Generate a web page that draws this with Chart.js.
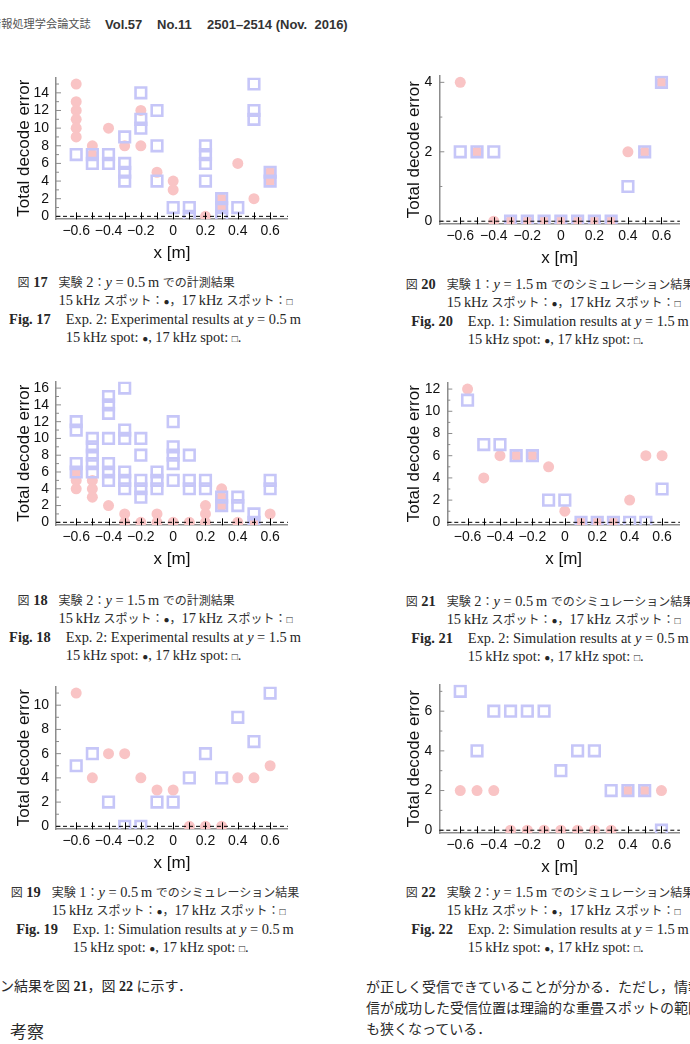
<!DOCTYPE html>
<html><head><meta charset="utf-8">
<script src="https://cdn.jsdelivr.net/npm/chart.js@4/dist/chart.umd.min.js"></script>
<style>
html,body{margin:0;padding:0;background:#fff;width:690px;height:1044px;overflow:hidden;position:relative}
canvas{position:absolute}
.t{position:absolute;white-space:nowrap;line-height:1;transform:translateY(-50%)}
.hdj{font-family:"Noto Sans CJK JP",sans-serif;font-size:11.2px;color:#555}
.hdl{font-family:"Liberation Sans",Arial,sans-serif;font-size:13px;font-weight:bold;color:#333}
.capblk{position:absolute;display:grid;grid-template-columns:auto auto;line-height:18.7px;white-space:nowrap;transform:translateX(-50%);font-family:"Liberation Serif","DejaVu Serif",serif;font-size:14.4px;color:#262626}
.capblk.jp{column-gap:11px}
.capblk.en{column-gap:15px}
.j{font-family:"Noto Sans CJK JP",sans-serif;font-size:12px;color:#333}
.s{font-size:10px}
.body{font-family:"Liberation Serif",serif;font-size:14px;color:#222}
.bj{font-family:"Noto Sans CJK JP",sans-serif;font-size:14px;color:#2a2a2a}
</style>
</head><body>
<div class="t hdj" style="left:-10px;top:24px">情報処理学会論文誌</div>
<div class="t hdl" style="left:105px;top:24px">Vol.57</div>
<div class="t hdl" style="left:157px;top:24px">No.11</div>
<div class="t hdl" style="left:207px;top:24px">2501–2514 (Nov.&nbsp; 2016)</div>

<canvas id="c17"></canvas><canvas id="c18"></canvas><canvas id="c19"></canvas>
<canvas id="c20"></canvas><canvas id="c21"></canvas><canvas id="c22"></canvas>

<div id="caps"></div>

<div class="t body" style="left:0px;top:986px"><span class="bj">ン結果を図</span> <b>21</b><span class="bj">，図</span> <b>22</b> <span class="bj">に示す．</span></div>
<div class="t bj" style="left:10px;top:1030px;font-size:17px">考察</div>
<div class="t bj" style="left:366px;top:986px">が正しく受信できていることが分かる．ただし，情報</div>
<div class="t bj" style="left:366px;top:1007px">信が成功した受信位置は理論的な重畳スポットの範囲</div>
<div class="t bj" style="left:366px;top:1028px">も狭くなっている．</div>

<script>
// ---------------- DATA ----------------
const X_POS = [-0.6,-0.5,-0.4,-0.3,-0.2,-0.1,0,0.1,0.2,0.3,0.4,0.5,0.6];
const X_TICKS = [-0.6,-0.4,-0.2,0,0.2,0.4,0.6];
const X_TICK_LABELS = ['−0.6','−0.4','−0.2','0','0.2','0.4','0.6'];
const X_TITLE = 'x [m]';
const Y_TITLE = 'Total decode error';

// Fig.17  Exp.2 measured, y = 0.5 m
const FIG17_15KHZ = [[15,13,12,11,10,9],[8,7],[10],[8],[12,8],[5],[4,3],[],[0],[2,1],[6],[2],[5,4]];
const FIG17_17KHZ = [[7],[7,6],[7,6],[9,6,5,4],[14,11,10],[12,8,4],[1],[1,0],[8,7,6,4],[2,1,0],[1],[15,12,11],[5,4]];
const FIG17_Y_TICKS = [0,2,4,6,8,10,12,14];

// Fig.18  Exp.2 measured, y = 1.5 m
const FIG18_15KHZ = [[6,5,4],[5,4,3],[2],[1,0],[0],[1,0],[0],[0],[2,1,0],[4,3,2],[0],[0],[1]];
const FIG18_17KHZ = [[12,11,7,6],[10,9,8,7,6],[15,14,13,10,7,6,5],[16,11,10,6,5,4],[10,8,5,4,3],[6,5,4],[12,9,8,7,5],[8,5,4],[5,4],[3,2],[3,2],[1,0],[5,4]];
const FIG18_Y_TICKS = [0,2,4,6,8,10,12,14,16];

// Fig.19  Exp.1 simulation, y = 0.5 m
const FIG19_15KHZ = [[11],[4],[6],[6],[4],[3],[3],[0],[0],[0],[4],[4],[5]];
const FIG19_17KHZ = [[5],[6],[2],[0],[0],[2],[2],[4],[6],[4],[9],[7],[11]];
const FIG19_Y_TICKS = [0,2,4,6,8,10];

// Fig.20  Exp.1 simulation, y = 1.5 m
const FIG20_15KHZ = [[4],[2],[0],[0],[0],[0],[0],[0],[0],[0],[2],[2],[4]];
const FIG20_17KHZ = [[2],[2],[2],[0],[0],[0],[0],[0],[0],[0],[1],[2],[4]];
const FIG20_Y_TICKS = [0,2,4];

// Fig.21  Exp.2 simulation, y = 0.5 m
const FIG21_15KHZ = [[12],[4],[6],[6],[6],[5],[1],[0],[0],[0],[2],[6],[6]];
const FIG21_17KHZ = [[11],[7],[7],[6],[6],[2],[2],[0],[0],[0],[0],[0],[3]];
const FIG21_Y_TICKS = [0,2,4,6,8,10,12];

// Fig.22  Exp.2 simulation, y = 1.5 m
const FIG22_15KHZ = [[2],[2],[2],[0],[0],[0],[0],[0],[0],[0],[2],[2],[2]];
const FIG22_17KHZ = [[7],[4],[6],[6],[6],[6],[3],[4],[4],[2],[2],[2],[0]];
const FIG22_Y_TICKS = [0,2,4,6];

// caption texts
const CAPTIONS = [
  {n:17, exp:'2', y:'0.5', jp:'での計測結果', en:'Experimental'},
  {n:18, exp:'2', y:'1.5', jp:'での計測結果', en:'Experimental'},
  {n:19, exp:'1', y:'0.5', jp:'でのシミュレーション結果', en:'Simulation'},
  {n:20, exp:'1', y:'1.5', jp:'でのシミュレーション結果', en:'Simulation'},
  {n:21, exp:'2', y:'0.5', jp:'でのシミュレーション結果', en:'Simulation'},
  {n:22, exp:'2', y:'1.5', jp:'でのシミュレーション結果', en:'Simulation'}
];

// ---------------- LAYOUT / STYLE ----------------
const FONT = 'Liberation Sans';
const AX = '#8c8c8c';
const CI = 'rgb(249,196,197)';
const SQ = 'rgb(198,198,248)';
const X_MIN = -0.725, X_MAX = 0.71;
const BOX = {
  c17:{col:0,   L:56,  R:293, T:72,  B:219.3},
  c18:{col:0,   L:56,  R:293, T:376.3, B:525.1},
  c19:{col:0,   L:56,  R:293, T:681.2, B:829.5},
  c20:{col:390, L:439.3, R:685, T:70,  B:224},
  c21:{col:390, L:447.3, R:685, T:377.3, B:525.8},
  c22:{col:390, L:439.3, R:685, T:678.9, B:832.9}
};
const CAP_POS = {17:{cx:155,y:282},18:{cx:155,y:600},19:{cx:155,y:892},
                 20:{cx:550,y:284},21:{cx:550,y:601},22:{cx:550,y:892}};

const zeroAxis = {
  id:'zeroAxis',
  afterDatasetsDraw(chart, args, opts){
    const {ctx, chartArea:a, scales:{x, y}} = chart;
    const y0 = y.getPixelForValue(0);
    ctx.save();
    ctx.strokeStyle = AX; ctx.lineWidth = 1;
    for (let v = 0; v <= y.max; v += 1){
      const py = y.getPixelForValue(v);
      const len = opts.major.includes(v) ? 5 : 3;
      ctx.beginPath(); ctx.moveTo(a.left, py); ctx.lineTo(a.left + len, py); ctx.stroke();
    }
    ctx.strokeStyle = '#000'; ctx.lineWidth = 1;
    ctx.setLineDash([4,3]);
    ctx.beginPath(); ctx.moveTo(a.left, y0); ctx.lineTo(a.right, y0); ctx.stroke();
    ctx.setLineDash([]);
    X_POS.forEach(v => {
      const px = Math.round(x.getPixelForValue(v)) + 0.5;
      ctx.beginPath(); ctx.moveTo(px, y0 - 4); ctx.lineTo(px, y0 + 3); ctx.stroke();
    });
    ctx.restore();
  }
};

function pts(series){
  const out = [];
  series.forEach((vals, i) => vals.forEach(v => out.push({x: X_POS[i], y: v})));
  return out;
}

function build(id, circles, squares, yTicks){
  const b = BOX[id];
  const PT = 10, PR = 5, XH = 48;
  const YW = b.L - b.col;
  const W = Math.round(b.R - b.col + PR);
  const H = Math.round(PT + (b.B - b.T) + XH);
  const cv = document.getElementById(id);
  cv.width = W; cv.height = H;
  cv.style.left = b.col + 'px'; cv.style.top = Math.round(b.T - PT) + 'px';
  cv.style.width = W + 'px'; cv.style.height = H + 'px';
  const top = Math.max(...circles.flat(), ...squares.flat());
  new Chart(cv, {
    type:'scatter',
    data:{datasets:[
      {label:'17 kHz spot', data:pts(squares), pointStyle:'rect', pointRadius:7.5, pointHoverRadius:7.5,
       borderColor:SQ, backgroundColor:'rgba(255,255,255,0)', borderWidth:2.6, clip:0, order:0},
      {label:'15 kHz spot', data:pts(circles), pointStyle:'circle', pointRadius:5.5, pointHoverRadius:5.5,
       borderColor:CI, backgroundColor:CI, borderWidth:0, clip:0, order:1}
    ]},
    options:{
      responsive:false, animation:false, events:[],
      layout:{padding:{top:PT, right:PR, left:0, bottom:0}},
      plugins:{legend:{display:false}, tooltip:{enabled:false}, zeroAxis:{major:yTicks}},
      scales:{
        x:{type:'linear', min:X_MIN, max:X_MAX,
           afterFit:s => { s.height = XH; },
           afterBuildTicks:s => { s.ticks = X_TICKS.map(v => ({value:v})); },
           ticks:{callback:(v, i) => X_TICK_LABELS[i], padding:4, font:{family:FONT, size:14}, color:'#111', maxRotation:0, autoSkip:false},
           grid:{display:false, drawTicks:false},
           border:{display:true, color:AX, width:1.5},
           title:{display:true, text:X_TITLE, font:{family:FONT, size:17}, color:'#111', padding:{top:0, bottom:3.8}}},
        y:{type:'linear', min:-0.02*top, max:1.05*top,
           afterFit:s => { s.width = YW; },
           afterBuildTicks:s => { s.ticks = yTicks.map(v => ({value:v})); },
           ticks:{callback:v => String(v), padding:7, font:{family:FONT, size:14}, color:'#111', autoSkip:false},
           grid:{display:false, drawTicks:false},
           border:{display:true, color:AX, width:1.5},
           title:{display:true, text:Y_TITLE, font:{family:FONT, size:17}, color:'#111', padding:{top:14.5, bottom:0}}}
      }
    },
    plugins:[zeroAxis]
  });
}

build('c17', FIG17_15KHZ, FIG17_17KHZ, FIG17_Y_TICKS);
build('c18', FIG18_15KHZ, FIG18_17KHZ, FIG18_Y_TICKS);
build('c19', FIG19_15KHZ, FIG19_17KHZ, FIG19_Y_TICKS);
build('c20', FIG20_15KHZ, FIG20_17KHZ, FIG20_Y_TICKS);
build('c21', FIG21_15KHZ, FIG21_17KHZ, FIG21_Y_TICKS);
build('c22', FIG22_15KHZ, FIG22_17KHZ, FIG22_Y_TICKS);

// captions
const LH = 18.7;
const capHost = document.getElementById('caps');
CAPTIONS.forEach(c => {
  const p = CAP_POS[c.n];
  const jp = document.createElement('div');
  jp.className = 'capblk jp';
  jp.style.left = p.cx + 'px'; jp.style.top = (p.y - LH/2) + 'px';
  jp.innerHTML =
    `<span><span class="j">図</span> <b>${c.n}</b></span>` +
    `<span><span class="j">実験</span> ${c.exp}<span class="j">：</span><i>y</i> = ${c.y}\u2009m <span class="j">${c.jp}</span></span>` +
    `<span></span>` +
    `<span>15\u2009kHz <span class="j">スポット：</span><span class="s">●</span><span class="j">，</span>17\u2009kHz <span class="j">スポット：</span><span class="s">□</span></span>`;
  capHost.appendChild(jp);
  const en = document.createElement('div');
  en.className = 'capblk en';
  en.style.left = p.cx + 'px'; en.style.top = (p.y + 2*LH - LH/2 - 0.5) + 'px';
  en.innerHTML =
    `<span><b>Fig. ${c.n}</b></span>` +
    `<span>Exp. ${c.exp}: ${c.en} results at <i>y</i> = ${c.y}\u2009m</span>` +
    `<span></span>` +
    `<span>15\u2009kHz spot: <span class="s">●</span>, 17\u2009kHz spot: <span class="s">□</span>.</span>`;
  capHost.appendChild(en);
});
</script>
</body></html>
